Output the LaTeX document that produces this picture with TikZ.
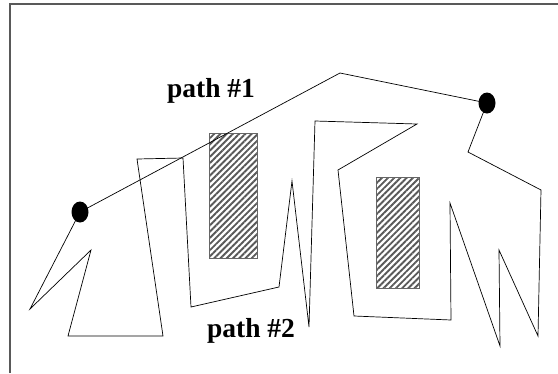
\documentclass[tikz,border=0pt]{standalone}
\usepackage{fontspec}
\setmainfont{Liberation Serif}
\usetikzlibrary{positioning, patterns.meta, shapes.geometric}

\tikzset{
  endpt/.style={ellipse, fill=black, minimum width=17pt, minimum height=21pt, inner sep=0pt},
  obstacle/.style={draw=gray!80!black, line width=0.6pt,
    pattern={Lines[angle=45, distance=4.4pt, line width=1.9pt]}, pattern color=gray!70!black},
  route/.style={line width=0.7pt, line join=miter},
  lbl/.style={font=\fontsize{27.5}{31}\selectfont\bfseries, anchor=base}
}

\begin{document}
\begin{tikzpicture}[x=1pt, y=-1pt]
  \useasboundingbox (0,0) rectangle (558,373);
  % frame
  \draw[gray!70!black, line width=1.4pt] (10,373) -- (10,4) -- (558,4);
  % obstacles
  \draw[obstacle] (209,133) rectangle (257,258);
  \draw[obstacle] (376,177) rectangle (419,288);
  % start and goal
  \node[endpt] (start) at (80,212) {};
  \node[endpt] (goal) at (487,103) {};
  % path #1
  \draw[route] (start.center) -- (340,73) -- (goal.center);
  % path #2
  \draw[route] (goal.center) -- (468,152) -- (541,190) -- (538,336) -- (499,250)
    -- (500,346) -- (450,203) -- (451,320) -- (354,316) -- (338,170) -- (417,124)
    -- (315,121) -- (309,327) -- (292,181) -- (279,287) -- (191,307) -- (183,158)
    -- (137,159) -- (163,336) -- (68,336) -- (91,250) -- (30,309) -- (start.center);
  % labels
  \node[lbl] (lblone) at (211,97) {path \#1};
  \node[lbl] (lbltwo) at (251,337) {path \#2};
\end{tikzpicture}
\end{document}
